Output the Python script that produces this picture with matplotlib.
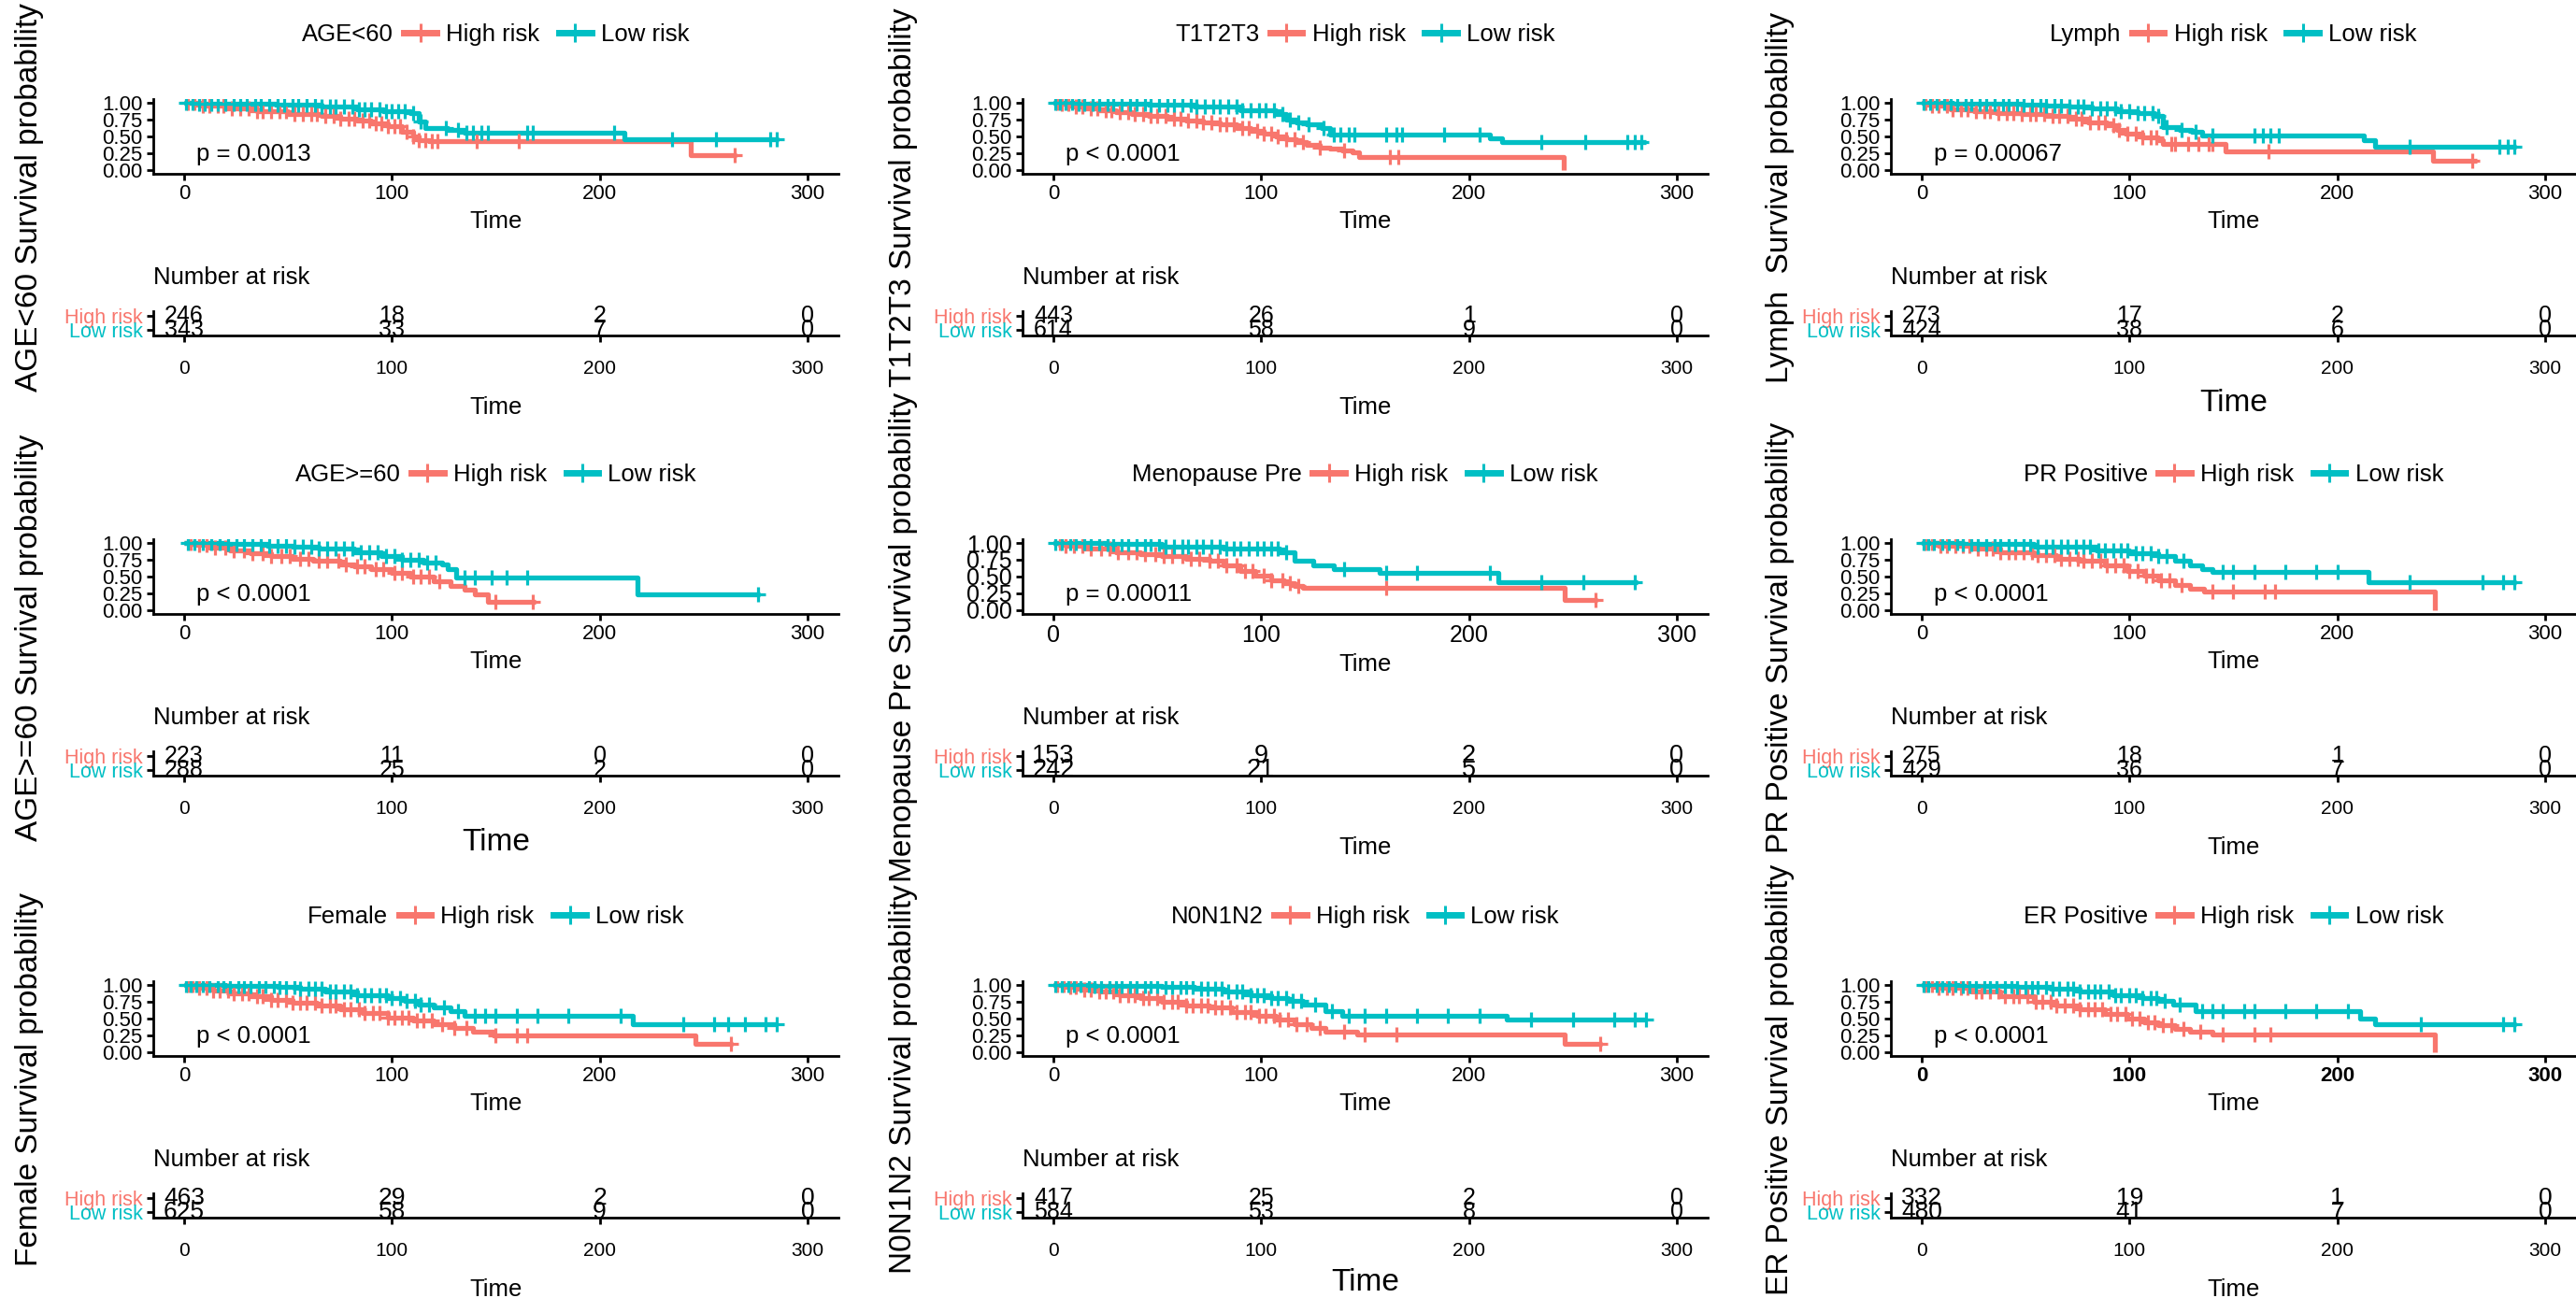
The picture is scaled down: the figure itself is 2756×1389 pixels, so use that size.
import numpy as np
import matplotlib
matplotlib.use("Agg")
import matplotlib.pyplot as plt
from matplotlib.lines import Line2D
from matplotlib.offsetbox import HPacker

plt.rcParams['font.family'] = ['Liberation Sans', 'DejaVu Sans']

RED = '#F8766D'
TEAL = '#00BFC4'

# ---------------- data ----------------
GROUPS = ['High risk', 'Low risk']
RISK_TIMES = [0, 100, 200, 300]

# Panel 1: AGE<60
AGE_LT60_HIGH_T = [0, 8, 20, 35, 50, 66, 75, 83, 90, 98, 105, 110, 113, 118, 244, 266]
AGE_LT60_HIGH_S = [1.0, 0.96, 0.92, 0.88, 0.84, 0.80, 0.77, 0.73, 0.69, 0.65, 0.57, 0.50, 0.45, 0.43, 0.22, 0.22]
AGE_LT60_HIGH_C = [2, 5, 9, 12, 16, 19, 23, 27, 31, 35, 38, 42, 46, 49, 53, 57, 61, 64, 68, 72, 75, 79, 82,
                   86, 89, 92, 95, 98, 101, 104, 107, 110, 113, 116, 119, 122, 141, 161, 265]
AGE_LT60_LOW_T = [0, 5, 20, 44, 66, 83, 96, 109, 113, 116, 127, 135, 212, 286]
AGE_LT60_LOW_S = [1.0, 0.99, 0.98, 0.97, 0.95, 0.90, 0.88, 0.85, 0.72, 0.63, 0.60, 0.555, 0.46, 0.46]
AGE_LT60_LOW_C = [1, 4, 7, 10, 13, 16, 20, 24, 27, 30, 34, 37, 41, 45, 48, 52, 55, 59, 63, 66, 70, 73, 77, 81,
                  84, 87, 90, 94, 97, 100, 103, 106, 110, 114, 126, 132, 136, 139, 143, 146, 165, 168, 207,
                  235, 256, 282, 285]
AGE_LT60_RISK_HIGH = [246, 18, 2, 0]
AGE_LT60_RISK_LOW = [343, 33, 7, 0]

# Panel 2: T1T2T3
T123_HIGH_T = [0, 4, 9, 15, 22, 30, 38, 46, 55, 64, 72, 80, 88, 95, 101, 107, 112, 117, 122, 128, 133,
               139, 144, 147, 245.5]
T123_HIGH_S = [1.0, 0.98, 0.95, 0.92, 0.89, 0.86, 0.83, 0.80, 0.77, 0.74, 0.71, 0.68, 0.63, 0.58, 0.54,
               0.50, 0.46, 0.41, 0.37, 0.34, 0.32, 0.29, 0.27, 0.19, 0.0]
T123_HIGH_C = [2, 4, 7, 11, 14, 18, 21, 25, 28, 32, 36, 39, 43, 47, 50, 54, 58, 61, 65, 69, 72, 76, 80,
               83, 87, 91, 94, 98, 101, 105, 108, 112, 116, 120, 128, 140, 162, 166]
T123_LOW_T = [0, 10, 25, 46, 68, 90, 107, 112, 117, 122, 129, 133, 210, 216, 285]
T123_LOW_S = [1.0, 0.99, 0.98, 0.97, 0.94, 0.89, 0.84, 0.75, 0.71, 0.68, 0.63, 0.53, 0.47, 0.41, 0.41]
T123_LOW_C = [1, 3, 6, 9, 12, 15, 19, 22, 26, 29, 33, 37, 40, 44, 47, 51, 55, 58, 62, 66, 69, 73, 77, 80,
              84, 88, 91, 95, 99, 102, 106, 110, 114, 118, 123, 130, 135, 138, 142, 145, 160, 165, 168,
              188, 205, 235, 256, 276, 280, 283]
T123_RISK_HIGH = [443, 26, 1, 0]
T123_RISK_LOW = [614, 58, 9, 0]

# Panel 3: Lymph
LYMPH_HIGH_T = [0, 5, 14, 25, 36, 48, 60, 71, 80, 89, 94, 98, 106, 114, 116, 146, 246, 267]
LYMPH_HIGH_S = [1.0, 0.96, 0.90, 0.88, 0.85, 0.83, 0.80, 0.76, 0.71, 0.66, 0.60, 0.54, 0.49, 0.44, 0.39,
                0.28, 0.14, 0.14]
LYMPH_HIGH_C = [2, 5, 8, 12, 15, 19, 22, 26, 30, 33, 37, 41, 44, 48, 52, 55, 59, 63, 66, 70, 74, 77, 81,
                85, 88, 92, 95, 99, 103, 106, 110, 113, 120, 122, 128, 133, 138, 140, 167, 265]
LYMPH_LOW_T = [0, 15, 30, 48, 60, 71, 82, 94, 104, 112, 116, 124, 130, 135, 213, 218, 286]
LYMPH_LOW_S = [1.0, 0.99, 0.985, 0.975, 0.96, 0.94, 0.91, 0.88, 0.85, 0.81, 0.64, 0.60, 0.565, 0.52,
               0.44, 0.35, 0.35]
LYMPH_LOW_C = [1, 4, 7, 11, 14, 17, 21, 24, 28, 31, 35, 39, 42, 46, 49, 53, 57, 60, 64, 67, 71, 75, 78,
               82, 86, 89, 93, 96, 100, 104, 107, 111, 114, 118, 125, 132, 140, 160, 164, 168, 172, 235,
               278, 282, 285]
LYMPH_RISK_HIGH = [273, 17, 2, 0]
LYMPH_RISK_LOW = [424, 38, 6, 0]

# Panel 4: AGE>=60
AGE_GE60_HIGH_T = [0, 5, 12, 22, 32, 42, 52, 62, 75, 82, 90, 100, 109, 120, 128, 135, 140, 146, 169]
AGE_GE60_HIGH_S = [1.0, 0.97, 0.93, 0.89, 0.85, 0.81, 0.77, 0.73, 0.68, 0.65, 0.61, 0.56, 0.50, 0.43,
                   0.36, 0.30, 0.23, 0.13, 0.13]
AGE_GE60_HIGH_C = [3, 7, 11, 15, 20, 24, 29, 33, 38, 42, 47, 51, 56, 60, 65, 69, 74, 78, 83, 87, 92, 96,
                   101, 105, 110, 114, 118, 123, 150, 168]
AGE_GE60_LOW_T = [0, 20, 40, 52, 65, 82, 95, 105, 115, 124, 127, 131, 218, 277]
AGE_GE60_LOW_S = [1.0, 0.98, 0.96, 0.95, 0.91, 0.86, 0.80, 0.75, 0.71, 0.68, 0.61, 0.49, 0.24, 0.24]
AGE_GE60_LOW_C = [2, 5, 9, 13, 17, 21, 25, 29, 33, 37, 41, 45, 49, 53, 57, 61, 65, 69, 73, 77, 81, 85,
                  89, 93, 97, 101, 105, 109, 113, 117, 121, 135, 140, 148, 155, 165, 276]
AGE_GE60_RISK_HIGH = [223, 11, 0, 0]
AGE_GE60_RISK_LOW = [288, 25, 2, 0]

# Panel 5: Menopause Pre
MENO_HIGH_T = [0, 6, 15, 30, 42, 52, 64, 75, 82, 90, 97, 105, 111, 116, 120, 246, 262]
MENO_HIGH_S = [1.0, 0.96, 0.91, 0.86, 0.83, 0.80, 0.76, 0.73, 0.67, 0.59, 0.52, 0.45, 0.40, 0.36, 0.33,
               0.15, 0.15]
MENO_HIGH_C = [3, 6, 10, 14, 18, 23, 27, 31, 36, 40, 44, 49, 53, 57, 62, 66, 70, 75, 79, 83, 88, 92, 96,
               101, 105, 110, 114, 118, 160, 261]
MENO_LOW_T = [0, 25, 52, 82, 109, 116, 125, 135, 157, 214, 281]
MENO_LOW_S = [1.0, 0.98, 0.95, 0.91, 0.86, 0.73, 0.66, 0.61, 0.55, 0.41, 0.41]
MENO_LOW_C = [1, 4, 8, 11, 15, 18, 22, 26, 29, 33, 36, 40, 44, 47, 51, 54, 58, 62, 65, 69, 72, 76, 80,
              83, 87, 90, 94, 98, 101, 105, 108, 112, 140, 160, 175, 210, 235, 255, 280]
MENO_RISK_HIGH = [153, 9, 2, 0]
MENO_RISK_LOW = [242, 21, 5, 0]

# Panel 6: PR Positive
PR_HIGH_T = [0, 8, 24, 38, 54, 65, 76, 88, 99, 107, 114, 122, 129, 136, 247]
PR_HIGH_S = [1.0, 0.96, 0.91, 0.86, 0.82, 0.77, 0.73, 0.66, 0.59, 0.52, 0.45, 0.38, 0.32, 0.28, 0.0]
PR_HIGH_C = [2, 5, 9, 12, 16, 20, 23, 27, 31, 34, 38, 42, 45, 49, 53, 56, 60, 64, 67, 71, 75, 78, 82, 86,
             89, 93, 97, 100, 104, 108, 111, 115, 119, 125, 140, 150, 165, 170]
PR_LOW_T = [0, 20, 54, 84, 100, 114, 122, 129, 135, 140, 215, 286]
PR_LOW_S = [1.0, 0.98, 0.95, 0.89, 0.85, 0.80, 0.73, 0.66, 0.61, 0.57, 0.41, 0.41]
PR_LOW_C = [1, 3, 6, 10, 13, 17, 20, 24, 27, 31, 35, 38, 42, 45, 49, 52, 56, 60, 63, 67, 70, 74, 78, 81,
            85, 88, 92, 96, 99, 103, 106, 110, 114, 118, 126, 145, 150, 160, 175, 190, 200, 235, 270,
            280, 285]
PR_RISK_HIGH = [275, 18, 1, 0]
PR_RISK_LOW = [429, 36, 7, 0]

# Panel 7: Female
FEMALE_HIGH_T = [0, 6, 14, 22, 32, 42, 52, 64, 75, 86, 98, 110, 120, 130, 139, 149, 246, 264]
FEMALE_HIGH_S = [1.0, 0.96, 0.91, 0.87, 0.83, 0.78, 0.73, 0.69, 0.64, 0.58, 0.52, 0.47, 0.42, 0.36,
                 0.31, 0.25, 0.12, 0.12]
FEMALE_HIGH_C = [2, 4, 7, 11, 14, 17, 21, 24, 28, 31, 35, 38, 42, 45, 49, 52, 56, 59, 63, 66, 70, 73, 77,
                 80, 84, 87, 91, 94, 98, 101, 105, 108, 112, 115, 119, 124, 130, 136, 150, 160, 165, 263]
FEMALE_LOW_T = [0, 20, 45, 56, 68, 83, 98, 106, 113, 120, 128, 135, 216, 285]
FEMALE_LOW_S = [1.0, 0.99, 0.97, 0.94, 0.90, 0.85, 0.80, 0.76, 0.71, 0.66, 0.61, 0.54, 0.42, 0.42]
FEMALE_LOW_C = [1, 3, 6, 9, 12, 16, 19, 22, 26, 29, 32, 36, 39, 43, 46, 49, 53, 56, 60, 63, 66, 70, 73,
                77, 80, 83, 87, 90, 94, 97, 100, 104, 107, 111, 114, 118, 125, 132, 140, 145, 150, 160,
                170, 185, 210, 240, 255, 262, 270, 280, 285]
FEMALE_RISK_HIGH = [463, 29, 2, 0]
FEMALE_RISK_LOW = [625, 58, 9, 0]

# Panel 8: N0N1N2
N012_HIGH_T = [0, 6, 14, 22, 32, 42, 52, 64, 75, 86, 98, 107, 116, 124, 131, 146, 246, 264]
N012_HIGH_S = [1.0, 0.97, 0.93, 0.90, 0.85, 0.80, 0.75, 0.70, 0.66, 0.60, 0.54, 0.48, 0.42, 0.36, 0.31,
               0.26, 0.13, 0.13]
N012_HIGH_C = [2, 5, 8, 11, 15, 18, 22, 25, 29, 32, 36, 39, 43, 46, 50, 53, 57, 60, 64, 67, 71, 74, 78,
               81, 85, 88, 92, 95, 99, 102, 106, 109, 113, 117, 122, 128, 140, 150, 165, 263]
N012_LOW_T = [0, 20, 52, 68, 82, 95, 105, 113, 120, 131, 139, 218, 285]
N012_LOW_S = [1.0, 0.99, 0.97, 0.94, 0.90, 0.85, 0.80, 0.76, 0.71, 0.61, 0.54, 0.48, 0.48]
N012_LOW_C = [1, 4, 7, 10, 13, 17, 20, 23, 27, 30, 33, 37, 40, 44, 47, 50, 54, 57, 61, 64, 67, 71, 74,
              78, 81, 84, 88, 91, 95, 98, 101, 105, 108, 112, 115, 119, 126, 134, 142, 150, 160, 175,
              190, 205, 230, 250, 270, 280, 285]
N012_RISK_HIGH = [417, 25, 2, 0]
N012_RISK_LOW = [584, 53, 8, 0]

# Panel 9: ER Positive
ER_HIGH_T = [0, 8, 24, 38, 54, 65, 76, 88, 99, 107, 114, 122, 129, 140, 247]
ER_HIGH_S = [1.0, 0.96, 0.90, 0.83, 0.75, 0.70, 0.64, 0.57, 0.50, 0.45, 0.40, 0.35, 0.31, 0.26, 0.0]
ER_HIGH_C = [2, 5, 8, 12, 15, 19, 22, 26, 29, 33, 37, 40, 44, 47, 51, 55, 58, 62, 65, 69, 73, 76, 80, 83,
             87, 91, 94, 98, 101, 105, 109, 112, 116, 120, 126, 134, 145, 160, 168]
ER_LOW_T = [0, 20, 46, 62, 76, 92, 106, 114, 121, 132, 211, 218, 286]
ER_LOW_S = [1.0, 0.99, 0.97, 0.94, 0.90, 0.85, 0.80, 0.76, 0.71, 0.61, 0.50, 0.42, 0.42]
ER_LOW_C = [1, 3, 7, 10, 13, 16, 20, 23, 26, 30, 33, 36, 40, 43, 46, 50, 53, 56, 60, 63, 66, 70, 73, 76,
            80, 83, 86, 90, 93, 96, 100, 103, 106, 110, 113, 117, 124, 135, 140, 145, 155, 160, 175,
            190, 205, 240, 280, 285]
ER_RISK_HIGH = [332, 19, 1, 0]
ER_RISK_LOW = [480, 41, 7, 0]

PANEL_NAMES = ['AGE<60', 'T1T2T3', 'Lymph', 'AGE>=60', 'Menopause Pre', 'PR Positive',
               'Female', 'N0N1N2', 'ER Positive']
YLABELS = ['AGE<60 Survival probability', 'T1T2T3 Survival probability', 'Lymph  Survival probability',
           'AGE>=60 Survival probability', 'Menopause Pre Survival probability',
           'PR Positive Survival probability', 'Female Survival probability',
           'N0N1N2 Survival probability', 'ER Positive Survival probability']
PVALUES = ['p = 0.0013', 'p < 0.0001', 'p = 0.00067', 'p < 0.0001', 'p = 0.00011', 'p < 0.0001',
           'p < 0.0001', 'p < 0.0001', 'p < 0.0001']

CURVES = [
    ((AGE_LT60_HIGH_T, AGE_LT60_HIGH_S, AGE_LT60_HIGH_C), (AGE_LT60_LOW_T, AGE_LT60_LOW_S, AGE_LT60_LOW_C)),
    ((T123_HIGH_T, T123_HIGH_S, T123_HIGH_C), (T123_LOW_T, T123_LOW_S, T123_LOW_C)),
    ((LYMPH_HIGH_T, LYMPH_HIGH_S, LYMPH_HIGH_C), (LYMPH_LOW_T, LYMPH_LOW_S, LYMPH_LOW_C)),
    ((AGE_GE60_HIGH_T, AGE_GE60_HIGH_S, AGE_GE60_HIGH_C), (AGE_GE60_LOW_T, AGE_GE60_LOW_S, AGE_GE60_LOW_C)),
    ((MENO_HIGH_T, MENO_HIGH_S, MENO_HIGH_C), (MENO_LOW_T, MENO_LOW_S, MENO_LOW_C)),
    ((PR_HIGH_T, PR_HIGH_S, PR_HIGH_C), (PR_LOW_T, PR_LOW_S, PR_LOW_C)),
    ((FEMALE_HIGH_T, FEMALE_HIGH_S, FEMALE_HIGH_C), (FEMALE_LOW_T, FEMALE_LOW_S, FEMALE_LOW_C)),
    ((N012_HIGH_T, N012_HIGH_S, N012_HIGH_C), (N012_LOW_T, N012_LOW_S, N012_LOW_C)),
    ((ER_HIGH_T, ER_HIGH_S, ER_HIGH_C), (ER_LOW_T, ER_LOW_S, ER_LOW_C)),
]
RISKS = [
    (AGE_LT60_RISK_HIGH, AGE_LT60_RISK_LOW), (T123_RISK_HIGH, T123_RISK_LOW),
    (LYMPH_RISK_HIGH, LYMPH_RISK_LOW), (AGE_GE60_RISK_HIGH, AGE_GE60_RISK_LOW),
    (MENO_RISK_HIGH, MENO_RISK_LOW), (PR_RISK_HIGH, PR_RISK_LOW),
    (FEMALE_RISK_HIGH, FEMALE_RISK_LOW), (N012_RISK_HIGH, N012_RISK_LOW),
    (ER_RISK_HIGH, ER_RISK_LOW),
]

# ---------------- layout (pixels) ----------------
W, H = 2756, 1389
DPI = 100
PX_PER_T = 2.223
XLIM = (-15, 315)
COL_X0 = [197, 1127, 2056]          # pixel of time 0
ROW_DY = [0, 471, 944]
YLAB_X = [32, 966, 1905]
CURVE_TOP, CURVE_H = 106.4, 79.2
TABLE_TOP, TABLE_H = 333, 26
LEGEND_ABOVE = 69                   # px from curve-axes top to legend centre

YLAB_FS = [24] * 9
TABLE_TIME_FS = [18.5, 18.5, 24, 24, 18.5, 18.5, 18.5, 24, 18.5]
TABLE_TIME_PAD = [14, 14, 8, 8, 14, 14, 14, 6, 14]
CURVE_TICK_FS = [16, 16, 16, 16, 18, 16, 16, 16, 16]
CURVE_TICK_BOLD = [False] * 8 + [True]
TABLE_NUM_FS = [18, 18, 18, 18, 19.5, 18, 19, 18, 19]

fig = plt.figure(figsize=(W / DPI, H / DPI), dpi=DPI)
fig.patch.set_facecolor('white')


def px_axes(left, top, width, height):
    return fig.add_axes([left / W, 1 - (top + height) / H, width / W, height / H])


def style_axes(ax, tick_fs, xpad=3):
    for s in ('top', 'right'):
        ax.spines[s].set_visible(False)
    for s in ('left', 'bottom'):
        ax.spines[s].set_linewidth(2.0)
        ax.spines[s].set_color('black')
    ax.tick_params(axis='both', direction='out', length=5, width=2.0, color='black',
                   labelsize=tick_fs, labelcolor='black', pad=3)
    ax.tick_params(axis='x', pad=xpad)


def inline_title(leg, sep_pt):
    box = HPacker(pad=0, sep=sep_pt, align='center',
                  children=[leg._legend_title_box, leg._legend_handle_box])
    box.set_figure(leg.get_figure(root=False))
    box.axes = leg.axes
    leg._legend_box = box
    leg._set_loc(leg._loc)


for i in range(9):
    r, c = divmod(i, 3)
    dy = ROW_DY[r]
    left = COL_X0[c] + XLIM[0] * PX_PER_T
    width = (XLIM[1] - XLIM[0]) * PX_PER_T

    # ---- survival curves ----
    ax = px_axes(left, CURVE_TOP + dy, width, CURVE_H)
    style_axes(ax, CURVE_TICK_FS[i])
    handles = []
    for (t, s, cens), col in zip(CURVES[i], (RED, TEAL)):
        t = np.asarray(t, float)
        s = np.asarray(s, float)
        ax.step(t, s, where='post', color=col, lw=3.8, solid_capstyle='butt', zorder=3)
        ct = np.asarray(cens, float)
        idx = np.clip(np.searchsorted(t, ct, side='right') - 1, 0, len(s) - 1)
        ax.plot(ct, s[idx], ls='none', marker='+', ms=12, mew=2.3, color=col, zorder=4)
        handles.append(Line2D([], [], color=col, lw=5, marker='+', ms=14, mew=2.2))
    ax.set_xlim(*XLIM)
    ax.set_ylim(-0.05, 1.05)
    ax.set_xticks(RISK_TIMES)
    ax.set_yticks([0, 0.25, 0.5, 0.75, 1.0])
    ax.set_yticklabels(['0.00', '0.25', '0.50', '0.75', '1.00'])
    if CURVE_TICK_BOLD[i]:
        for lab in ax.get_xticklabels():
            lab.set_fontweight('bold')
    ax.set_xlabel('Time', fontsize=18.5, labelpad=5)
    ax.text(6, 0.24, PVALUES[i], fontsize=18.5, ha='left', va='center')

    leg = ax.legend(handles, GROUPS, title=PANEL_NAMES[i], ncol=2, loc='center',
                    bbox_to_anchor=(0.5, 1 + LEGEND_ABOVE / CURVE_H), frameon=False, fontsize=18.5,
                    title_fontsize=18.5, handlelength=1.35, handletextpad=0.4,
                    columnspacing=0.8, borderpad=0, borderaxespad=0)
    inline_title(leg, 8)

    # ---- y label spanning the row ----
    fig.text(YLAB_X[c] / W, 1 - (211 + dy) / H, YLABELS[i], rotation=90, ha='center',
             va='center', fontsize=YLAB_FS[i])

    # ---- risk table ----
    at = px_axes(left, TABLE_TOP + dy, width, TABLE_H)
    style_axes(at, 15, xpad=14)
    at.set_xlim(*XLIM)
    at.set_ylim(0.6, 2.3)
    at.set_xticks(RISK_TIMES)
    at.set_yticks([2, 1])
    at.set_yticklabels(GROUPS, fontsize=15.5)
    for lab, col in zip(at.get_yticklabels(), (RED, TEAL)):
        lab.set_color(col)
    for row_y, counts in zip((2, 1), RISKS[i]):
        for tt, n in zip(RISK_TIMES, counts):
            at.text(tt, row_y, str(n), ha='center', va='center', fontsize=TABLE_NUM_FS[i])
    at.set_xlabel('Time', fontsize=TABLE_TIME_FS[i], labelpad=TABLE_TIME_PAD[i])
    at.set_title('Number at risk', loc='left', fontsize=18.5, pad=21)

fig.savefig('out.png', dpi=DPI, facecolor='white')
